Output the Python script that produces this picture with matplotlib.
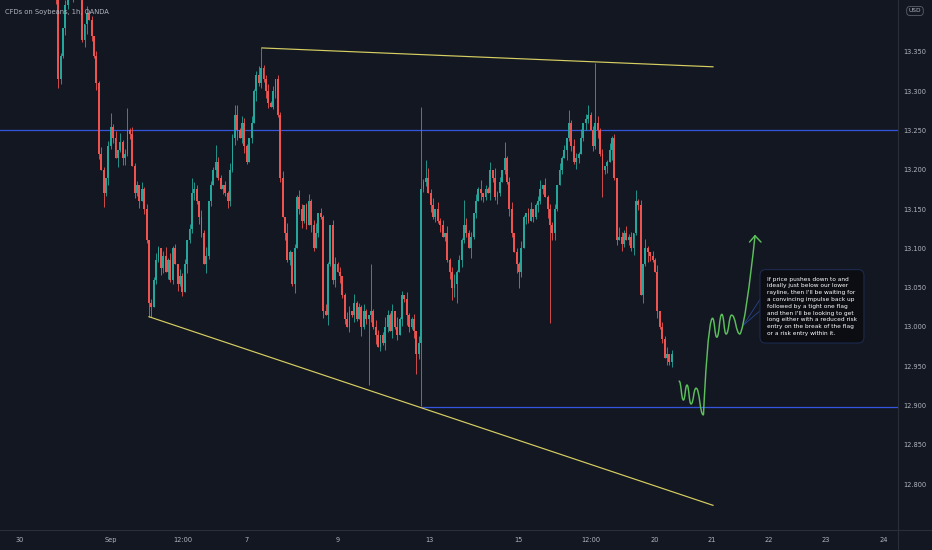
import numpy as np
import matplotlib
matplotlib.use("Agg")
import matplotlib.pyplot as plt
from matplotlib.path import Path
from matplotlib.patches import PathPatch
from matplotlib.lines import Line2D

# ---------------- data ----------------
title = "CFDs on Soybeans, 1h, OANDA"
currency = "USD"

first_bar = 14          # bar index of the first candle (bar 0 = "30" label)
first_open = 13.440
closes = [
    13.430, 13.420, 13.315, 13.345, 13.380, 13.410, 13.430, 13.425, 13.440, 13.430,
    13.435, 13.420, 13.365, 13.385, 13.400, 13.390, 13.370, 13.345, 13.310, 13.220,
    13.200, 13.170, 13.190, 13.230, 13.255, 13.240, 13.215, 13.225, 13.235, 13.215,
    13.220, 13.250, 13.245, 13.205, 13.170, 13.180, 13.160, 13.175, 13.150, 13.110,
    13.030, 13.025, 13.060, 13.085, 13.100, 13.075, 13.090, 13.070, 13.085, 13.060,
    13.100, 13.080, 13.055, 13.065, 13.045, 13.080, 13.110, 13.125, 13.170, 13.175,
    13.160, 13.140, 13.120, 13.080, 13.090, 13.160, 13.180, 13.200, 13.210, 13.190,
    13.175, 13.180, 13.170, 13.160, 13.200, 13.240, 13.270, 13.250, 13.240, 13.260,
    13.230, 13.210, 13.240, 13.260, 13.300, 13.320, 13.310, 13.330, 13.315, 13.300,
    13.285, 13.280, 13.300, 13.315, 13.270, 13.190, 13.140, 13.120, 13.085, 13.095,
    13.055, 13.100, 13.165, 13.150, 13.135, 13.155, 13.130, 13.160, 13.130, 13.100,
    13.120, 13.145, 13.140, 13.020, 13.015, 13.080, 13.130, 13.060, 13.080, 13.070,
    13.065, 13.040, 13.010, 13.000, 13.020, 13.015, 13.030, 13.010, 13.025, 13.000,
    13.020, 13.010, 13.015, 13.020, 13.000, 12.990, 12.975, 12.990, 12.980, 13.000,
    13.015, 12.995, 13.020, 13.000, 12.990, 13.010, 13.040, 13.035, 13.015, 13.000,
    13.010, 12.995, 12.965, 12.980, 13.175, 13.185, 13.190, 13.170, 13.155, 13.140,
    13.150, 13.135, 13.130, 13.115, 13.120, 13.085, 13.070, 13.050, 13.055, 13.070,
    13.085, 13.110, 13.130, 13.120, 13.100, 13.115, 13.145, 13.160, 13.175, 13.170,
    13.165, 13.175, 13.170, 13.200, 13.190, 13.165, 13.170, 13.185, 13.200, 13.215,
    13.185, 13.150, 13.120, 13.095, 13.080, 13.070, 13.100, 13.140, 13.145, 13.135,
    13.150, 13.140, 13.155, 13.160, 13.175, 13.180, 13.165, 13.150, 13.130, 13.120,
    13.150, 13.180, 13.200, 13.215, 13.225, 13.240, 13.260, 13.230, 13.210, 13.215,
    13.220, 13.240, 13.260, 13.265, 13.270, 13.250, 13.230, 13.260, 13.250, 13.220,
    13.200, 13.205, 13.210, 13.225, 13.240, 13.190, 13.110, 13.115, 13.105, 13.120,
    13.110, 13.115, 13.100, 13.120, 13.160, 13.155, 13.040, 13.080, 13.100, 13.095,
    13.090, 13.085, 13.070, 13.020, 13.000, 12.985, 12.960, 12.965, 12.955, 12.965,
]
wick_unit = 0.003
wick_up = [int(c) for c in "".join([
    "2131021320", "1240312021", "3102213041", "2013120312", "0213102413",
    "1203120213", "2031402132", "1021320413", "2103124012", "3120213041",
    "0213201312", "4021310231", "2013204121", "3102132014", "2130412031",
    "1203210423", "0312031241", "2103120314", "0213041203", "1230213102",
    "3012403121", "2031204132", "1402312031", "2013120421", "3120312041",
    "0213021302"])]
wick_dn = [int(c) for c in "".join([
    "1302132041", "2013402132", "0213120413", "3120213021", "1402132031",
    "2031204123", "1320412031", "0213213402", "3102041213", "2013120312",
    "1402312031", "0213041230", "3120213104", "1203140213", "2031203142",
    "1302412031", "2130213041", "0312041203", "2103213102", "1320412031",
    "0213120413", "3102041213", "2013202131", "1230412031", "0213120314",
    "2103120312"])]
high_override = {38: 13.272, 45: 13.279, 72: 13.190, 82: 13.232, 90: 13.282,
                 101: 13.356, 147: 13.080, 168: 13.280, 170: 13.212, 186: 13.162,
                 197: 13.210, 203: 13.235, 230: 13.276, 238: 13.282, 241: 13.336,
                 258: 13.174}
low_override = {16: 13.304, 35: 13.152, 54: 13.012, 146: 12.926, 166: 12.940,
                168: 12.900, 181: 13.034, 183: 13.030, 209: 13.050, 222: 13.005,
                244: 13.165}

# time axis (bar index positions of the date labels)
tick_pos = [0, 38.1, 68.3, 95.1, 133.2, 171.3, 209.0, 239.2, 266.0, 289.9, 313.8, 337.7, 362.0]
tick_labels = ["30", "Sep", "12:00", "7", "9", "13", "15", "12:00", "20", "21", "22", "23", "24"]
price_ticks = [12.80, 12.85, 12.90, 12.95, 13.00, 13.05, 13.10, 13.15, 13.20, 13.25, 13.30, 13.35]

# drawings
upper_level = 13.251
lower_level = 12.898
lower_level_start = 168
upper_ray_x, upper_ray_y = [101.4, 290.3], [13.355, 13.331]
lower_ray_x, lower_ray_y = [54.0, 290.3], [13.013, 12.773]

path_x = [276.1, 277.9, 279.4, 281.1, 283.2, 286.3, 290.1, 291.9, 294.0, 295.8, 298.1, 301.6, 307.9]
path_y = [12.931, 12.907, 12.926, 12.902, 12.922, 12.888, 13.011, 12.987, 13.016, 12.991, 13.015, 12.991, 13.116]
arrow_arm_x = [305.6, 310.4]
arrow_arm_y = [13.108, 13.108]

note_text = ("If price pushes down to and\n"
             "ideally just below our lower\n"
             "rayline, then I'll be waiting for\n"
             "a convincing impulse back up\n"
             "followed by a tight one flag\n"
             "and then I'll be looking to get\n"
             "long either with a reduced risk\n"
             "entry on the break of the flag\n"
             "or a risk entry within it.")
note_x, note_y = 312.9, 13.064
pointer_x = [303.1, 310.4, 310.4]
pointer_y = [13.0025, 13.037, 13.0216]

# ---------------- style ----------------
BG = "#131722"
TXT = "#b2b5be"
UP = "#26a69a"
DN = "#ef5350"
DIV = "#2a2e39"
BLUE = "#3456dc"
YEL = "#d8cf62"
GRN = "#5cbf5c"

W, H = 932, 550
fig = plt.figure(figsize=(W / 100, H / 100), dpi=100, facecolor=BG)
ax = fig.add_axes([0, 20 / H, 898 / W, 530 / H])
ax.set_facecolor(BG)
ax.set_xlim(-8.4, 367.8)
ax.set_ylim(12.7416, 13.416)

# candles
n = len(closes)
x = np.arange(first_bar, first_bar + n)
opens = np.array([first_open] + closes[:-1])
cl = np.array(closes)
hi = np.maximum(opens, cl) + np.array(wick_up[:n]) * wick_unit
lo = np.minimum(opens, cl) - np.array(wick_dn[:n]) * wick_unit
for k, v in high_override.items():
    hi[k - first_bar] = v
for k, v in low_override.items():
    lo[k - first_bar] = v
colors = np.where(cl >= opens, UP, DN)
ax.vlines(x, lo, hi, colors=colors, linewidth=0.6, zorder=2)
body_lo = np.minimum(opens, cl)
body_h = np.maximum(np.abs(cl - opens), 0.0012)
ax.bar(x, body_h, bottom=body_lo, width=0.8, color=colors, linewidth=0, zorder=3)

# horizontal levels
ax.axhline(upper_level, color=BLUE, linewidth=0.9, zorder=1)
ax.plot([lower_level_start, 400], [lower_level, lower_level], color=BLUE, linewidth=0.9, zorder=1)

# rays
ax.plot(upper_ray_x, upper_ray_y, color=YEL, linewidth=0.85, zorder=4)
ax.plot(lower_ray_x, lower_ray_y, color=YEL, linewidth=0.85, zorder=4)

# green projected path (smooth waves)
verts = [(path_x[0], path_y[0])]
codes = [Path.MOVETO]
for j in range(1, len(path_x)):
    x0, y0 = path_x[j - 1], path_y[j - 1]
    x1, y1 = path_x[j], path_y[j]
    dx = x1 - x0
    if j == len(path_x) - 1:
        c1 = (x0 + 0.25 * dx, y0 + 0.05 * (y1 - y0))
        c2 = (x1 - 0.35 * dx, y1 - 0.5 * (y1 - y0))
    elif j == 6:
        c1 = (x0 + 0.15 * dx, y0 + 0.3 * (y1 - y0))
        c2 = (x1 - 0.45 * dx, y1)
    else:
        c1 = (x0 + 0.5 * dx, y0)
        c2 = (x1 - 0.5 * dx, y1)
    verts += [c1, c2, (x1, y1)]
    codes += [Path.CURVE4] * 3
ax.add_patch(PathPatch(Path(verts, codes), facecolor="none", edgecolor=GRN,
                       linewidth=1.05, zorder=6, capstyle="round"))
for axx, ayy in zip(arrow_arm_x, arrow_arm_y):
    ax.plot([path_x[-1], axx], [path_y[-1], ayy], color=GRN, linewidth=1.05,
            zorder=6, solid_capstyle="round")

# callout
ax.plot([pointer_x[0], pointer_x[1]], [pointer_y[0], pointer_y[1]], color="#27458f", linewidth=0.6, zorder=5)
ax.plot([pointer_x[0], pointer_x[2]], [pointer_y[0], pointer_y[2]], color="#27458f", linewidth=0.6, zorder=5)
ax.text(note_x, note_y, note_text, ha="left", va="top", color="#ffffff",
        fontsize=4.2, linespacing=1.45, family="DejaVu Sans", zorder=7,
        bbox=dict(boxstyle="round,pad=1.2,rounding_size=1.0", facecolor="#0b0d13",
                  edgecolor="#1d2a4d", linewidth=0.8))

# axes styling
for s in ax.spines.values():
    s.set_visible(False)
ax.set_xticks(tick_pos)
ax.set_xticklabels(tick_labels)
ax.yaxis.tick_right()
ax.set_yticks(price_ticks)
ax.set_yticklabels([f"{p:.3f}" for p in price_ticks])
ax.tick_params(axis="both", length=0, colors=TXT, labelsize=4.8)
ax.tick_params(axis="y", pad=4.0)
ax.tick_params(axis="x", pad=5.0)

# panel dividers
fig.add_artist(Line2D([898 / W, 898 / W], [0, 1], color=DIV, linewidth=0.8))
fig.add_artist(Line2D([0, 1], [20 / H, 20 / H], color=DIV, linewidth=0.8))

# title and currency badge
fig.text(5 / W, 1 - 12 / H, title, ha="left", va="center", color=TXT, fontsize=4.9)
fig.text(915 / W, 1 - 11 / H, currency, ha="center", va="center", color=TXT, fontsize=4.2,
         bbox=dict(boxstyle="round,pad=0.35,rounding_size=0.6", facecolor=BG,
                   edgecolor="#5d606b", linewidth=0.6))

fig.savefig("out.png", dpi=100, facecolor=BG)
